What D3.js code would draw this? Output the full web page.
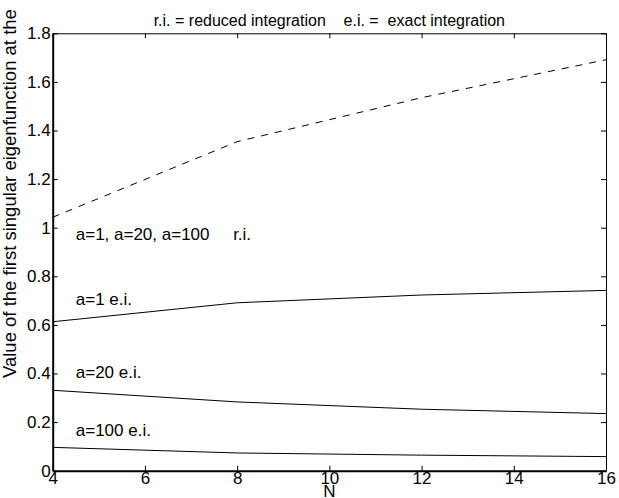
<!DOCTYPE html>
<html>
<head>
<meta charset="utf-8">
<script src="https://cdn.jsdelivr.net/npm/d3@7"></script>
<style>
  body { margin: 0; background: #fff; }
  svg { display: block; font-family: "Liberation Sans", Arial, Helvetica, sans-serif; }
  text { white-space: pre; }
</style>
</head>
<body>
<div id="chart"></div>
<script>
// data
const N = [4, 8, 12, 16]
const reducedAll = [1.043, 1.354, 1.535, 1.691]   // a=1, a=20, a=100 r.i. (dashed)
const exactA1 = [0.613, 0.691, 0.723, 0.742]
const exactA20 = [0.331, 0.283, 0.253, 0.235]
const exactA100 = [0.096, 0.073, 0.064, 0.058]

const xTicks = [4, 6, 8, 10, 12, 14, 16]
const yTicks = [0, 0.2, 0.4, 0.6, 0.8, 1, 1.2, 1.4, 1.6, 1.8]
const yTickLabels = ["0", "0.2", "0.4", "0.6", "0.8", "1", "1.2", "1.4", "1.6", "1.8"]

const labelText = ["a=1, a=20, a=100     r.i.", "a=1 e.i.", "a=20 e.i.", "a=100 e.i."]
const labelN = [4.5, 4.5, 4.5, 4.5]
const labelVal = [0.949, 0.682, 0.380, 0.143]

const titleText = "r.i. = reduced integration    e.i. =  exact integration"
const xTitle = "N"
const yTitle = "Value of the first singular eigenfunction at the"

// size and margins
const W = 619, H = 498
const margin = {top: 33.3, right: 13, bottom: 27.3, left: 52.7}
const width = W - margin.left - margin.right,
      height = H - margin.top - margin.bottom

const svg = d3.select("#chart").append("svg")
    .attr("width", W)
    .attr("height", H)

const g = svg.append("g")
    .attr("transform", "translate(" + margin.left + "," + margin.top + ")")

const x = d3.scaleLinear().domain([4, 16]).range([0, width])
const y = d3.scaleLinear().domain([0, 1.8]).range([height, 0])

// lines
const line = d3.line()
    .x((d, i) => x(N[i]))
    .y(d => y(d))

g.append("path")
    .attr("fill", "none")
    .attr("stroke", "#000")
    .attr("stroke-width", 1)
    .attr("stroke-dasharray", "7,7")
    .attr("d", line(reducedAll))

for (const s of [exactA1, exactA20, exactA100]) {
    g.append("path")
        .attr("fill", "none")
        .attr("stroke", "#000")
        .attr("stroke-width", 1)
        .attr("d", line(s))
}

// axes, ticks pointing inside on all four sides
const xAxis = g.append("g")
    .attr("transform", "translate(0," + height + ")")
    .call(d3.axisBottom(x).tickValues(xTicks).tickSizeInner(-5).tickSizeOuter(0).tickPadding(1).tickFormat(d3.format("d")))
xAxis.select(".domain").attr("stroke-width", 2)

const yAxis = g.append("g")
    .call(d3.axisLeft(y).tickValues(yTicks).tickSizeInner(-5).tickSizeOuter(0).tickPadding(2)
        .tickFormat((d, i) => yTickLabels[i]))
yAxis.select(".domain").attr("stroke-width", 2)

g.append("g")
    .call(d3.axisTop(x).tickValues(xTicks).tickSizeInner(-5).tickSizeOuter(0).tickFormat(""))
g.append("g")
    .attr("transform", "translate(" + width + ",0)")
    .call(d3.axisRight(y).tickValues(yTicks).tickSizeInner(-5).tickSizeOuter(0).tickFormat(""))

g.selectAll(".tick text")
    .attr("font-size", "17px")
    .attr("font-family", "Liberation Sans, Arial, sans-serif")
    .attr("fill", "#000")
g.selectAll(".tick line, .domain").attr("stroke", "#000")

// line labels
g.selectAll(".lbl")
    .data(labelText)
    .enter().append("text")
    .attr("class", "lbl")
    .attr("x", (d, i) => x(labelN[i]))
    .attr("y", (d, i) => y(labelVal[i]))
    .attr("font-size", "17px")
    .text(d => d)

// titles
svg.append("text")
    .attr("x", margin.left + width / 2)
    .attr("y", 26)
    .attr("text-anchor", "middle")
    .attr("font-size", "16px")
    .text(titleText)

svg.append("text")
    .attr("x", margin.left + width / 2)
    .attr("y", 497)
    .attr("text-anchor", "middle")
    .attr("font-size", "17px")
    .text(xTitle)

svg.append("text")
    .attr("transform", "translate(16,378) rotate(-90)")
    .attr("text-anchor", "start")
    .attr("font-size", "18.5px")
    .text(yTitle)
</script>
</body>
</html>
